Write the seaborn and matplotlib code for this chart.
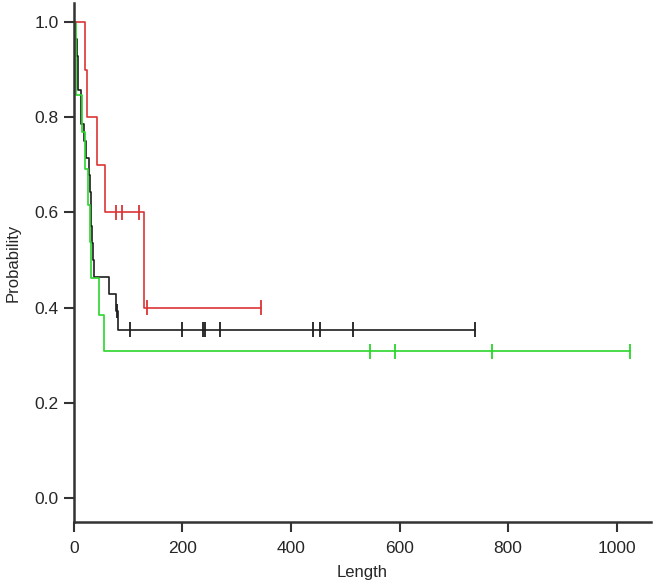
import pandas as pd
import matplotlib
matplotlib.use("Agg")
import matplotlib.pyplot as plt
import seaborn as sns

# Step curves (time where each level starts, survival level)
black_times = [0, 1, 6, 6.5, 12.4, 18.5, 22, 27, 29, 31, 32, 33, 34.5, 36, 64, 78, 81, 739]
black_surv = [1.0, 0.964, 0.929, 0.857, 0.786, 0.75, 0.714, 0.679, 0.643, 0.607, 0.571,
              0.536, 0.5, 0.464, 0.429, 0.393, 0.354, 0.354]
black_censor = [80, 103, 200, 237, 241, 270, 440, 453, 514, 739]

green_times = [0, 3, 15, 20, 25, 29, 31, 47, 55, 1025]
green_surv = [1.0, 0.846, 0.769, 0.692, 0.615, 0.538, 0.462, 0.385, 0.308, 0.308]
green_censor = [546, 592, 771, 1025]

red_times = [0, 21, 24, 42, 58, 129, 345]
red_surv = [1.0, 0.9, 0.8, 0.7, 0.6, 0.4, 0.4]
red_censor = [78, 89, 119, 135, 345]

groups = ["black", "green", "red"]
colors = {"black": "#1e1e1e", "green": "#2ad62a", "red": "#dc3535"}

curves = {"black": (black_times, black_surv, black_censor),
          "green": (green_times, green_surv, green_censor),
          "red": (red_times, red_surv, red_censor)}


def level_at(times, surv, t):
    s = surv[0]
    for ti, si in zip(times, surv):
        if ti <= t:
            s = si
    return s


steps = []
marks = []
for g in groups:
    times, surv, cens = curves[g]
    for t, s in zip(times, surv):
        steps.append({"group": g, "time": t, "surv": s})
    for t in cens:
        marks.append({"group": g, "time": t, "surv": level_at(times, surv, t)})
steps = pd.DataFrame(steps)
marks = pd.DataFrame(marks)

sns.set_style("ticks")
plt.rcParams["font.family"] = ["Liberation Sans", "DejaVu Sans"]

fig = plt.figure(figsize=(6.53, 5.82), dpi=100)
ax = fig.add_axes([0.1133, 0.1034, 0.884, 0.8914])

sns.lineplot(data=steps, x="time", y="surv", hue="group", hue_order=groups,
             palette=colors, drawstyle="steps-post", estimator=None, sort=False,
             linewidth=1.2, legend=False, ax=ax)
sns.scatterplot(data=marks, x="time", y="surv", hue="group", hue_order=groups,
                palette=colors, marker="|", s=110, linewidth=1.3, legend=False, ax=ax)

ax.set_xlim(0, 1064)
ax.set_ylim(-0.05, 1.04)
ax.set_xticks([0, 200, 400, 600, 800, 1000])
ax.set_yticks([0.0, 0.2, 0.4, 0.6, 0.8, 1.0])
ax.set_yticklabels(["0.0", "0.2", "0.4", "0.6", "0.8", "1.0"])
ax.set_xlabel("Length", fontsize=12, labelpad=6)
ax.set_ylabel("Probability", fontsize=12, labelpad=10)
ax.tick_params(labelsize=12.5, length=7, width=1.5, color="#333333", pad=4)
ax.tick_params(axis="x", pad=7)
sns.despine(ax=ax)
for side in ["left", "bottom"]:
    ax.spines[side].set_color("#333333")
    ax.spines[side].set_linewidth(1.8)

plt.savefig("out.png", dpi=100)
plt.close()
